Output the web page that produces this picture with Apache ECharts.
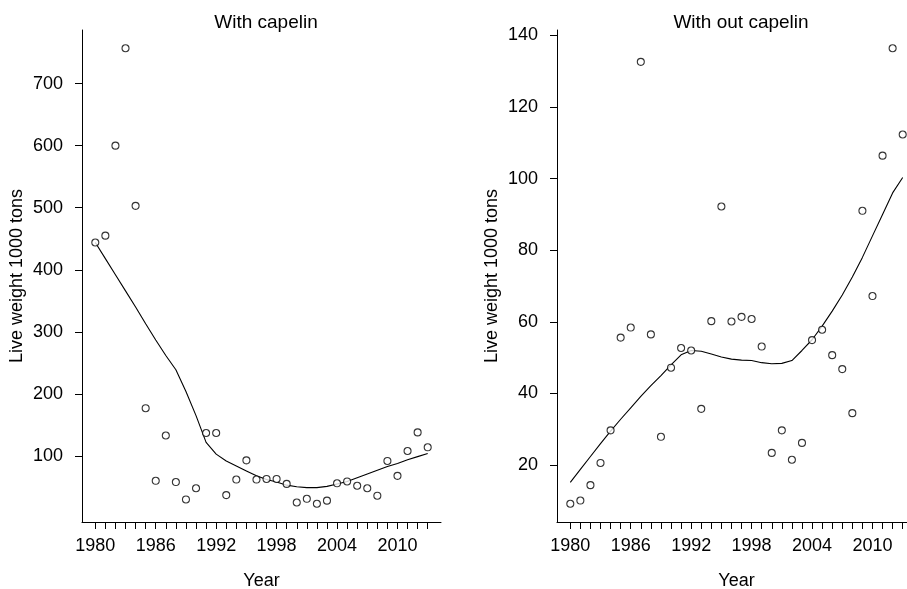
<!DOCTYPE html>
<html>
<head>
<meta charset="utf-8">
<script src="https://cdn.jsdelivr.net/npm/echarts@6/dist/echarts.min.js"></script>
<style>
  html, body { margin: 0; padding: 0; background: #fff; }
  #chart { width: 907px; height: 589px; }
</style>
</head>
<body>
<div id="chart"></div>
<script>
// Years of observation
const years = [1980,1981,1982,1983,1984,1985,1986,1987,1988,1989,1990,1991,1992,1993,1994,1995,1996,
  1997,1998,1999,2000,2001,2002,2003,2004,2005,2006,2007,2008,2009,2010,2011,2012,2013];

// Catch, live weight in 1000 tons, including capelin
const withCapelin = [444,455,600,757,503,177,60,133,58,30,48,137,137,37,62,93,62,
  63,63,55,25,31,23,28,56,59,52,48,36,92,68,108,138,114];
// Smoothed (loess) fit for the series including capelin
const withCapelinFit = [444,418,392,366,340,313,287,262,239,204,165,122,103,92,84,76,68,
  62,58,53,50.5,49,49,51,55,59,65,71,77,83,88,94,99,104];

// Catch, live weight in 1000 tons, excluding capelin
const withoutCapelin = [9.2,10.1,14.4,20.6,29.7,55.6,58.4,132.6,56.5,27.9,47.2,52.7,52,35.7,60.2,92.2,60.1,
  61.4,60.8,53.1,23.4,29.7,21.5,26.2,54.9,57.8,50.7,46.8,34.5,91,67.2,106.4,136.4,112.3];
// Smoothed (loess) fit for the series excluding capelin
const withoutCapelinFit = [15.2,18.8,22.4,26,29.5,32.8,36,39.2,42.2,45,48,50.8,52,51.8,51,50.2,49.6,
  49.3,49.2,48.6,48.3,48.4,49.2,52,55,58.8,63,67.5,72.5,78,84,90,96,100.3];

// Axis tick positions
const xTickYears = years;
const xLabelYears = [1980,1986,1992,1998,2004,2010];
const yTicksLeft = [100,200,300,400,500,600,700];
const yTicksRight = [20,40,60,80,100,120,140];

const titles = ['With capelin', 'With out capelin'];
const yName = 'Live weight 1000 tons';
const xName = 'Year';

const FONT = '"Liberation Sans", Arial, sans-serif';
const pairs = (xs, ys) => xs.map((x, i) => [x, ys[i]]);

// Axis ranges padded by 4% of the data range on each side
function padded(vals) {
  const lo = Math.min(...vals), hi = Math.max(...vals);
  const d = (hi - lo) * 0.04;
  return [lo - d, hi + d];
}
const xRange = padded(years);
const yRangeLeft = padded(withCapelin.concat(withCapelinFit));
const yRangeRight = padded(withoutCapelin.concat(withoutCapelinFit));

const axisLine = { show: true, onZero: false, lineStyle: { color: '#000', width: 1 } };
const tickStyle = { color: '#000', width: 1 };
const labelStyle = { color: '#000', fontSize: 18, fontFamily: FONT };
const nameStyle = { color: '#000', fontSize: 18, fontFamily: FONT };

function xAxisFor(gridIndex) {
  return {
    type: 'value', gridIndex,
    min: xRange[0], max: xRange[1],
    axisLine,
    axisTick: { show: true, length: 7, lineStyle: tickStyle, customValues: xTickYears },
    axisLabel: Object.assign({ margin: 15, customValues: xLabelYears, formatter: v => String(v) }, labelStyle),
    splitLine: { show: false },
    name: xName, nameLocation: 'middle', nameGap: 50, nameTextStyle: nameStyle
  };
}
function yAxisFor(gridIndex, range, ticks) {
  return {
    type: 'value', gridIndex,
    min: range[0], max: range[1],
    axisLine,
    axisTick: { show: true, length: 7, lineStyle: tickStyle, customValues: ticks },
    axisLabel: Object.assign({ margin: 19, customValues: ticks, formatter: v => String(v) }, labelStyle),
    splitLine: { show: false },
    name: yName, nameLocation: 'middle', nameRotate: 90, nameGap: 56, nameTextStyle: nameStyle
  };
}

const pointStyle = { color: '#fff', borderColor: '#000', borderWidth: 1.1 };
const fitStyle = { color: '#000', width: 1.1 };

const option = {
  backgroundColor: '#fff',
  animation: false,
  title: [
    { text: titles[0], left: 261, top: 8, textAlign: 'center',
      textStyle: { fontSize: 19, fontWeight: 'normal', color: '#000', fontFamily: FONT } },
    { text: titles[1], left: 736, top: 8, textAlign: 'center',
      textStyle: { fontSize: 19, fontWeight: 'normal', color: '#000', fontFamily: FONT } }
  ],
  grid: [
    { left: 82, right: 466, top: 30, bottom: 67, outerBoundsMode: 'none' },
    { left: 557, right: -9, top: 30, bottom: 67, outerBoundsMode: 'none' }
  ],
  xAxis: [xAxisFor(0), xAxisFor(1)],
  yAxis: [yAxisFor(0, yRangeLeft, yTicksLeft), yAxisFor(1, yRangeRight, yTicksRight)],
  series: [
    { type: 'line', xAxisIndex: 0, yAxisIndex: 0, data: pairs(years, withCapelinFit),
      showSymbol: false, lineStyle: fitStyle, z: 1 },
    { type: 'scatter', xAxisIndex: 0, yAxisIndex: 0, data: pairs(years, withCapelin),
      symbol: 'circle', symbolSize: 7, itemStyle: pointStyle, z: 2 },
    { type: 'line', xAxisIndex: 1, yAxisIndex: 1, data: pairs(years, withoutCapelinFit),
      showSymbol: false, lineStyle: fitStyle, z: 1 },
    { type: 'scatter', xAxisIndex: 1, yAxisIndex: 1, data: pairs(years, withoutCapelin),
      symbol: 'circle', symbolSize: 7, itemStyle: pointStyle, z: 2 }
  ]
};

const chart = echarts.init(document.getElementById('chart'), null, { renderer: 'canvas' });
chart.setOption(option);
</script>
</body>
</html>
